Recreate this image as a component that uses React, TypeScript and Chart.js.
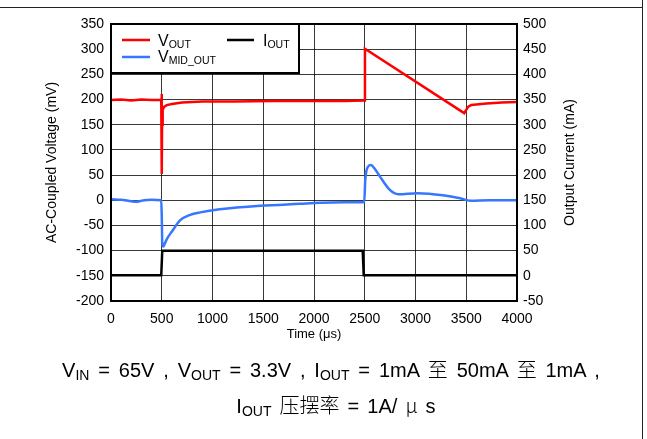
import React, { useEffect, useRef } from "react";
import { Chart, registerables } from "chart.js";

Chart.register(...registerables);

// ---- data ----
const voutTime = [0, 100, 200, 300, 400, 480, 495, 499, 501, 503, 506, 512, 525, 550, 600, 700, 900, 1200, 1600, 2000, 2300, 2495, 2502, 3480, 3495, 3520, 3550, 3600, 3700, 3850, 4000];
const voutMv = [199, 200, 198, 200, 199, 199, 200, 211, 52, 150, 170, 180, 186, 189, 191, 194, 196, 196, 197, 197, 197, 198, 301, 173, 178, 186, 189, 190, 192, 194, 195];

const vmidTime = [0, 100, 200, 250, 300, 400, 495, 500, 505, 515, 530, 550, 600, 680, 780, 880, 1070, 1470, 1860, 2060, 2300, 2495, 2505, 2530, 2560, 2600, 2650, 2750, 2830, 3020, 3270, 3440, 3540, 3730, 4000];
const vmidMv = [2, 1, -2, -3, -1, 1, 0, -30, -85, -92, -86, -77, -62, -40, -29, -24, -18, -11, -7, -5, -4, -4, 40, 66, 70, 62, 47, 20, 12, 14, 10, 4, -1, 0, 0];

const ioutTime = [0, 495, 505, 2480, 2490, 4000];
const ioutMa = [1, 1, 50, 50, 1, 1];

const xTickStep = 500;
const leftAxisRange = [-200, 350];
const rightAxisRange = [-50, 500];
const axisStep = 50;

const FONT = '"Liberation Sans", Arial, Helvetica, sans-serif';

function toPoints(xs: number[], ys: number[]) {
  return xs.map((x, i) => ({ x, y: ys[i] }));
}

function drawSub(
  ctx: CanvasRenderingContext2D,
  x: number,
  y: number,
  main: string,
  sub: string
) {
  ctx.font = `16px ${FONT}`;
  ctx.textBaseline = "alphabetic";
  ctx.textAlign = "left";
  ctx.fillStyle = "#000";
  ctx.fillText(main, x, y);
  const w = ctx.measureText(main).width;
  ctx.font = `10.5px ${FONT}`;
  ctx.fillText(sub, x + w, y + 1.5);
}

const framePlugin = {
  id: "framePlugin",
  afterDraw(chart: any) {
    const ctx = chart.ctx as CanvasRenderingContext2D;
    const { left, top, right, bottom } = chart.chartArea;
    ctx.save();
    // plot border
    ctx.strokeStyle = "#000";
    ctx.lineWidth = 2;
    ctx.strokeRect(left, top, right - left, bottom - top);
    // legend box
    const bw = 188;
    const bh = 49;
    ctx.fillStyle = "#fff";
    ctx.fillRect(left, top, bw, bh);
    ctx.strokeRect(left, top, bw, bh);
    ctx.lineWidth = 2.5;
    ctx.lineCap = "butt";
    ctx.strokeStyle = "#ff0000";
    ctx.beginPath();
    ctx.moveTo(left + 11, top + 16);
    ctx.lineTo(left + 39, top + 16);
    ctx.stroke();
    ctx.strokeStyle = "#3776ff";
    ctx.beginPath();
    ctx.moveTo(left + 11, top + 33);
    ctx.lineTo(left + 39, top + 33);
    ctx.stroke();
    ctx.strokeStyle = "#000";
    ctx.beginPath();
    ctx.moveTo(left + 116, top + 16);
    ctx.lineTo(left + 143, top + 16);
    ctx.stroke();
    drawSub(ctx, left + 47, top + 22, "V", "OUT");
    drawSub(ctx, left + 47, top + 38, "V", "MID_OUT");
    drawSub(ctx, left + 152, top + 22, "I", "OUT");
    // right axis title, reading bottom-to-top like the left one
    ctx.translate(right + 53, (top + bottom) / 2);
    ctx.rotate(-Math.PI / 2);
    ctx.font = `14px ${FONT}`;
    ctx.textAlign = "center";
    ctx.textBaseline = "middle";
    ctx.fillStyle = "#000";
    ctx.fillText("Output Current (mA)", 0, 0);
    ctx.restore();
  },
};

function ChartBox() {
  const ref = useRef<HTMLCanvasElement | null>(null);
  useEffect(() => {
    if (!ref.current) return;
    const gridColor = "rgba(0,0,0,0.78)";
    const tickFont = { family: FONT, size: 14 };
    const plain = (v: any) => String(v);
    const chart = new Chart(ref.current, {
      type: "line",
      data: {
        datasets: [
          {
            label: "IOUT",
            data: toPoints(ioutTime, ioutMa),
            yAxisID: "y2",
            borderColor: "#000000",
            borderWidth: 2.5,
            pointRadius: 0,
            tension: 0,
            order: 3,
          },
          {
            label: "VMID_OUT",
            data: toPoints(vmidTime, vmidMv),
            yAxisID: "y",
            borderColor: "#3776ff",
            borderWidth: 2.5,
            pointRadius: 0,
            cubicInterpolationMode: "monotone",
            order: 2,
          },
          {
            label: "VOUT",
            data: toPoints(voutTime, voutMv),
            yAxisID: "y",
            borderColor: "#ff0000",
            borderWidth: 2.5,
            pointRadius: 0,
            tension: 0,
            order: 1,
          },
        ],
      },
      options: {
        animation: false,
        responsive: false,
        maintainAspectRatio: false,
        layout: { padding: { left: 0, right: 0, top: 24, bottom: 0 } },
        plugins: {
          legend: { display: false },
          tooltip: { enabled: false },
        },
        scales: {
          x: {
            type: "linear",
            min: 0,
            max: 4000,
            ticks: {
              stepSize: xTickStep,
              padding: 10,
              color: "#000",
              font: tickFont,
              maxRotation: 0,
              autoSkip: false,
              callback: plain,
            },
            grid: { color: gridColor, lineWidth: 1, drawTicks: false },
            border: { display: false },
            title: {
              display: true,
              text: "Time (μs)",
              color: "#000",
              font: { family: FONT, size: 13 },
              padding: { top: 0, bottom: 8 },
            },
            afterFit: (s: any) => {
              s.height = 49;
            },
          },
          y: {
            type: "linear",
            position: "left",
            min: leftAxisRange[0],
            max: leftAxisRange[1],
            ticks: { stepSize: axisStep, padding: 7, color: "#000", font: tickFont, callback: plain },
            grid: { color: gridColor, lineWidth: 1, drawTicks: false },
            border: { display: false },
            title: {
              display: true,
              text: "AC-Coupled Voltage (mV)",
              color: "#000",
              font: { family: FONT, size: 14 },
              padding: { top: 44, bottom: 0 },
            },
            afterFit: (s: any) => {
              s.width = 111;
            },
          },
          y2: {
            type: "linear",
            position: "right",
            min: rightAxisRange[0],
            max: rightAxisRange[1],
            ticks: { stepSize: axisStep, padding: 6, color: "#000", font: tickFont, callback: plain },
            grid: { drawOnChartArea: false, drawTicks: false },
            border: { display: false },
            title: { display: false },
            afterFit: (s: any) => {
              s.width = 130;
            },
          },
        },
      } as any,
      plugins: [framePlugin],
    });
    return () => chart.destroy();
  }, []);
  return (
    <canvas
      ref={ref}
      width={647}
      height={350}
      style={{ position: "absolute", left: 0, top: 0, width: 647, height: 350, display: "block" }}
    />
  );
}

const subStyle: React.CSSProperties = { fontSize: 14, verticalAlign: "-3px" };
const cjk: React.CSSProperties = { fontFamily: '"Noto Sans CJK SC", sans-serif', fontWeight: 300 };

export default function App() {
  return (
    <div
      style={{
        position: "absolute",
        left: 0,
        top: 0,
        width: 647,
        height: 439,
        background: "#fff",
        overflow: "hidden",
        fontFamily: FONT,
        color: "#000",
      }}
    >
      <ChartBox />
      <div style={{ position: "absolute", left: 0, top: 7, width: 643, height: 1, background: "#222" }} />
      <div style={{ position: "absolute", left: 642, top: 0, width: 1, height: 439, background: "#222" }} />
      <div
        style={{
          position: "absolute",
          left: 0,
          top: 357,
          width: 662,
          textAlign: "center",
          fontSize: 20,
          lineHeight: "24px",
          whiteSpace: "pre",
          wordSpacing: "3.3px",
        }}
      >
        V<span style={subStyle}>IN</span>{" = 65V , V"}<span style={subStyle}>OUT</span>{" = 3.3V , I"}
        <span style={subStyle}>OUT</span>{" = 1mA "}<span style={cjk}>至</span>{" 50mA "}
        <span style={cjk}>至</span>{" 1mA ,"}
      </div>
      <div
        style={{
          position: "absolute",
          left: 0,
          top: 393,
          width: 672,
          textAlign: "center",
          fontSize: 20,
          lineHeight: "24px",
          whiteSpace: "pre",
          wordSpacing: "2.5px",
        }}
      >
        I<span style={subStyle}>OUT</span>{" "}<span style={cjk}>压摆率</span>{" = 1A/ "}<span style={cjk}>μ</span>{" s"}
      </div>
    </div>
  );
}
